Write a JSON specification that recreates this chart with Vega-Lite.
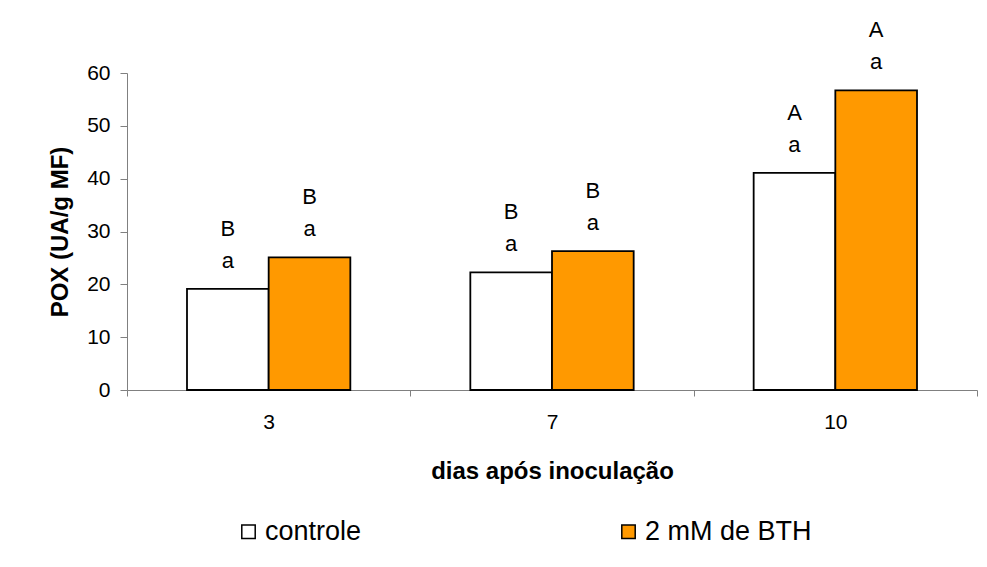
{
  "$schema": "https://vega.github.io/schema/vega-lite/v6.json",
  "width": 850,
  "height": 317,
  "autosize": {"type": "none"},
  "padding": {"left": 127, "top": 73, "right": 10, "bottom": 177},
  "background": "white",
  "config": {
    "font": "Liberation Sans",
    "view": {"stroke": null},
    "axis": {"grid": false}
  },
  "data": {
    "values": [
      {"dia": "3", "tratamento": "controle", "pox": 19.15, "maiuscula": "B", "minuscula": "a"},
      {"dia": "3", "tratamento": "2 mM de BTH", "pox": 25.1, "maiuscula": "B", "minuscula": "a"},
      {"dia": "7", "tratamento": "controle", "pox": 22.25, "maiuscula": "B", "minuscula": "a"},
      {"dia": "7", "tratamento": "2 mM de BTH", "pox": 26.3, "maiuscula": "B", "minuscula": "a"},
      {"dia": "10", "tratamento": "controle", "pox": 41.1, "maiuscula": "A", "minuscula": "a"},
      {"dia": "10", "tratamento": "2 mM de BTH", "pox": 56.7, "maiuscula": "A", "minuscula": "a"}
    ]
  },
  "encoding": {
    "x": {
      "field": "dia",
      "type": "nominal",
      "sort": ["3", "7", "10"],
      "scale": {"paddingInner": 0, "paddingOuter": 0},
      "axis": {
        "title": "dias após inoculação",
        "titleFontSize": 24,
        "titleFontWeight": "bold",
        "titleColor": "black",
        "titleX": 425,
        "titleY": 69,
        "titleAlign": "center",
        "titleBaseline": "top",
        "labelAngle": 0,
        "labelFontSize": 21,
        "labelColor": "black",
        "labelPadding": 15,
        "tickBand": "extent",
        "tickSize": 6,
        "tickColor": "#808080",
        "domainColor": "#808080"
      }
    },
    "xOffset": {
      "field": "tratamento",
      "type": "nominal",
      "sort": ["controle", "2 mM de BTH"],
      "scale": {"paddingInner": 0, "paddingOuter": 0.7346}
    },
    "y": {
      "field": "pox",
      "type": "quantitative",
      "scale": {"domain": [0, 60], "nice": false},
      "axis": {
        "title": "POX (UA/g MF)",
        "titleFontSize": 24,
        "titleFontWeight": "bold",
        "titleColor": "black",
        "titleAngle": -90,
        "titleX": -60,
        "titleY": 158.5,
        "titleAlign": "center",
        "titleBaseline": "alphabetic",
        "values": [0, 10, 20, 30, 40, 50, 60],
        "labelFontSize": 21,
        "labelColor": "black",
        "labelPadding": 10,
        "tickSize": 7,
        "tickColor": "#808080",
        "domainColor": "#808080"
      }
    }
  },
  "layer": [
    {
      "mark": {"type": "bar", "stroke": "black", "strokeWidth": 1.8, "opacity": 1},
      "encoding": {
        "color": {
          "field": "tratamento",
          "type": "nominal",
          "scale": {"domain": ["controle", "2 mM de BTH"], "range": ["#FFFFFF", "#FF9900"]},
          "legend": {
            "title": null,
            "orient": "none",
            "legendX": 108,
            "legendY": 445,
            "direction": "horizontal",
            "padding": 0,
            "labelFontSize": 27,
            "labelColor": "black",
            "labelOffset": 3,
            "labelLimit": 0,
            "columnPadding": 253,
            "symbolType": "square",
            "symbolSize": 180,
            "symbolStrokeColor": "black",
            "symbolStrokeWidth": 1.5,
            "symbolOpacity": 1
          }
        }
      }
    },
    {
      "mark": {"type": "text", "dy": -21, "fontSize": 22, "baseline": "alphabetic", "align": "center", "color": "black"},
      "encoding": {"text": {"field": "minuscula"}}
    },
    {
      "mark": {"type": "text", "dy": -53, "fontSize": 22, "baseline": "alphabetic", "align": "center", "color": "black"},
      "encoding": {"text": {"field": "maiuscula"}}
    }
  ]
}
